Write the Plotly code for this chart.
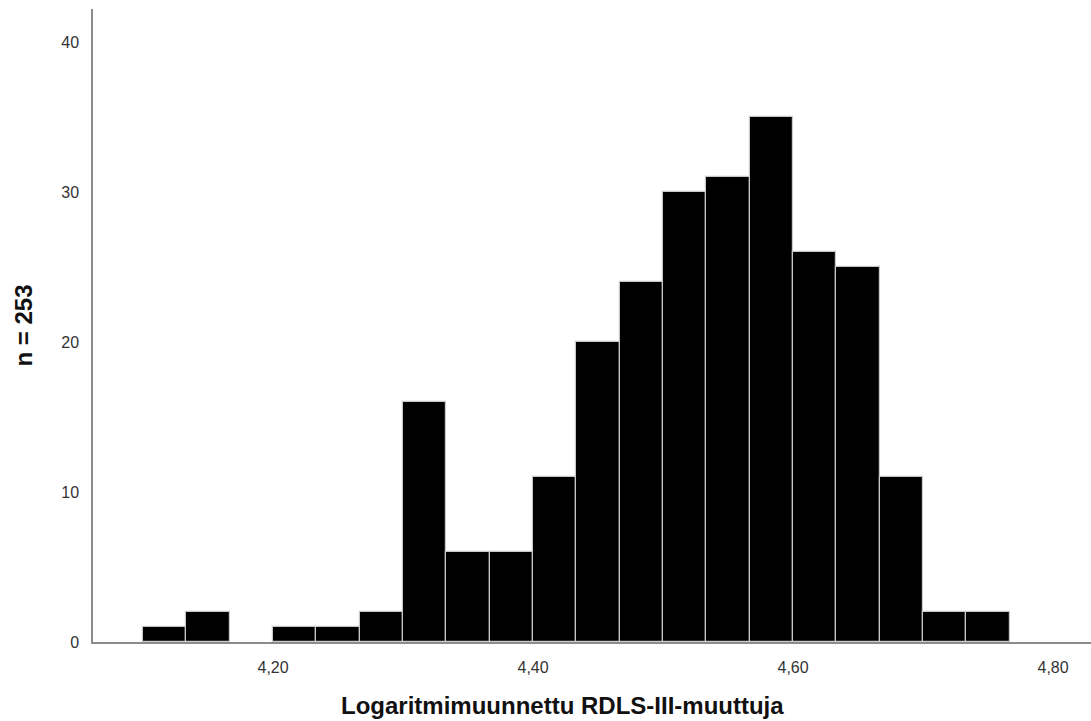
import plotly.graph_objects as go

# Histogram data (bin edges start 4.10, width 1/30)
bin_start = 4.10
bin_width = 1 / 30
counts = [1, 2, 0, 1, 1, 2, 16, 6, 6, 11, 20, 24, 30, 31, 35, 26, 25, 11, 2, 2]
x_ticks = [4.20, 4.40, 4.60, 4.80]
y_ticks = [0, 10, 20, 30, 40]

centers = [bin_start + bin_width * (i + 0.5) for i in range(len(counts))]
line_widths = [1.2 if c > 0 else 0 for c in counts]

fig = go.Figure()
fig.add_trace(go.Bar(
    x=centers, y=counts, width=[bin_width] * len(counts),
    marker=dict(color="black", line=dict(color="#c8c8c8", width=line_widths)),
    hoverinfo="x+y",
))

fig.update_layout(
    width=1091, height=721,
    margin=dict(l=93, r=0, t=9, b=79),
    paper_bgcolor="white", plot_bgcolor="white",
    separators=", ",
    showlegend=False,
    bargap=0,
    font=dict(family="Liberation Sans, Arial, sans-serif", color="#333333"),
    xaxis=dict(
        range=[4.0615, 4.8292],
        tickvals=x_ticks, tickformat=".2f",
        showgrid=False, zeroline=False,
        showline=True, linecolor="#8c8c8c", linewidth=1.5,
        ticks="", ticklabelstandoff=10,
        tickfont=dict(size=16, color="#333333"),
    ),
    yaxis=dict(
        range=[0, 42.2],
        tickvals=y_ticks,
        showgrid=False, zeroline=False,
        showline=True, linecolor="#8c8c8c", linewidth=1.5,
        ticks="", ticklabelstandoff=9,
        tickfont=dict(size=16, color="#333333"),
        title=dict(text="<b>n = 253</b>", font=dict(size=24, color="#111111"), standoff=22),
    ),
    annotations=[dict(
        text="<b>Logaritmimuunnettu RDLS-III-muuttuja</b>",
        xref="paper", yref="paper", x=0.47, y=-0.1248,
        xanchor="center", yanchor="bottom", showarrow=False,
        font=dict(size=24, color="#111111"),
    )],
)

fig.write_html("out.html")
